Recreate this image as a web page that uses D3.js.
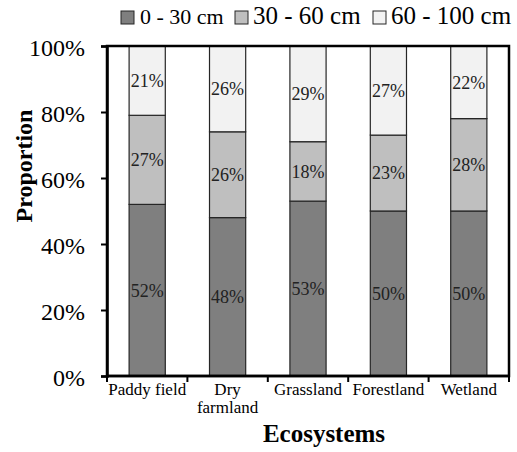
<!DOCTYPE html>
<html>
<head>
<meta charset="utf-8">
<script src="https://cdn.jsdelivr.net/npm/d3@7"></script>
<style>
  body { margin: 0; background: #fff; }
</style>
</head>
<body>
<svg id="chart" width="517" height="452"></svg>
<script>
var categories = ["Paddy field", "Dry farmland", "Grassland", "Forestland", "Wetland"];
var depths = ["0 - 30 cm", "30 - 60 cm", "60 - 100 cm"];
var shallow = [52, 48, 53, 50, 50];
var middle = [27, 26, 18, 23, 28];
var deep = [21, 26, 29, 27, 22];
var yTicks = [0, 20, 40, 60, 80, 100];
var colors = ["#7f7f7f", "#bfbfbf", "#f2f2f2"];
var serif = "'Liberation Serif', 'Times New Roman', Times, serif";

var margins = { top: 46, left: 107, bottom: 76, right: 8 };
var width = 517 - margins.left - margins.right;
var height = 452 - margins.top - margins.bottom;

var svg = d3.select("#chart").attr("font-family", serif);
var g = svg.append("g").attr("transform", "translate(" + margins.left + "," + margins.top + ")");

var rows = categories.map(function(c, i) {
  return { cat: c, a: shallow[i], b: middle[i], c: deep[i] };
});
var stack = d3.stack().keys(["a", "b", "c"])(rows);

var xScale = d3.scaleBand().domain(categories).range([0, width]).paddingInner(0.55).paddingOuter(0.275);
var xBand = d3.scaleBand().domain(categories).range([0, width]);
var yScale = d3.scaleLinear().domain([0, 100]).range([height, 0]);

// bars
var layers = g.selectAll(".layer").data(stack).enter().append("g")
  .attr("fill", function(d, i) { return colors[i]; });
layers.selectAll("rect").data(function(d) { return d; }).enter().append("rect")
  .attr("x", function(d) { return xScale(d.data.cat); })
  .attr("y", function(d) { return yScale(d[1]); })
  .attr("width", xScale.bandwidth())
  .attr("height", function(d) { return yScale(d[0]) - yScale(d[1]); })
  .attr("stroke", "#262626")
  .attr("stroke-width", 1.2);

// labels
layers.selectAll("text").data(function(d) { return d; }).enter().append("text")
  .attr("x", function(d) { return xScale(d.data.cat) + xScale.bandwidth() / 2; })
  .attr("y", function(d) { return yScale((d[0] + d[1]) / 2); })
  .attr("dy", "0.35em")
  .attr("text-anchor", "middle")
  .style("font-family", serif)
  .style("font-size", "18px")
  .style("fill", "#222")
  .text(function(d) { return (d[1] - d[0]) + "%"; });

// plot border
g.append("rect").attr("x", 0).attr("y", 0).attr("width", width).attr("height", height)
  .attr("fill", "none").attr("stroke", "#000").attr("stroke-width", 2.5);

// y axis
var yAxis = d3.axisLeft(yScale).tickValues(yTicks).tickSize(6).tickFormat(function(d) { return d + "%"; });
var yG = g.append("g").call(yAxis).attr("font-family", serif);
yG.select(".domain").attr("stroke-width", 2.5);
yG.selectAll(".tick line").attr("stroke-width", 2);
yG.selectAll(".tick text").attr("x", -22).attr("dy", "0.38em")
  .style("font-family", serif).style("font-size", "24px").attr("fill", "#000");

// x axis, ticks at band boundaries
var bounds = categories.map(function(c) { return xBand(c); }).concat([width]);
var xG = g.append("g").attr("transform", "translate(0," + height + ")");
xG.append("line").attr("x1", 0).attr("x2", width).attr("stroke", "#000").attr("stroke-width", 2.5);
xG.selectAll(".xt").data(bounds).enter().append("line")
  .attr("x1", function(d) { return d; }).attr("x2", function(d) { return d; })
  .attr("y1", 0).attr("y2", 6).attr("stroke", "#000").attr("stroke-width", 2);
var catText = xG.selectAll(".cat").data(categories).enter().append("text")
  .attr("x", function(d) { return xBand(d) + xBand.bandwidth() / 2; })
  .attr("y", 19)
  .attr("text-anchor", "middle")
  .style("font-family", serif)
  .style("font-size", "17px");
catText.each(function(d) {
  var parts = d == "Dry farmland" ? ["Dry", "farmland"] : [d];
  var t = d3.select(this);
  parts.forEach(function(p, k) {
    t.append("tspan").attr("x", t.attr("x")).attr("dy", k == 0 ? 0 : 18).text(p);
  });
});

// axis titles
svg.append("text").attr("x", 324).attr("y", 442)
  .attr("text-anchor", "middle").style("font-family", serif).style("font-size", "25px").style("font-weight", "bold")
  .text("Ecosystems");
svg.append("text").attr("transform", "translate(32,166) rotate(-90)")
  .attr("text-anchor", "middle").style("font-family", serif).style("font-size", "24px").style("font-weight", "bold")
  .text("Proportion");

// legend
var legX = [121, 235, 373];
var legSize = [22, 25, 25];
var leg = svg.append("g").selectAll("g").data(depths).enter().append("g")
  .attr("transform", function(d, i) { return "translate(" + legX[i] + ",11)"; });
leg.append("rect").attr("width", 13).attr("height", 13)
  .attr("fill", function(d, i) { return colors[i]; })
  .attr("stroke", "#262626").attr("stroke-width", 1);
leg.append("text").attr("x", function(d, i) { return i == 0 ? 19 : 18; }).attr("y", 13)
  .style("font-family", serif)
  .style("font-size", function(d, i) { return legSize[i] + "px"; })
  .text(function(d) { return d; });
</script>
</body>
</html>
